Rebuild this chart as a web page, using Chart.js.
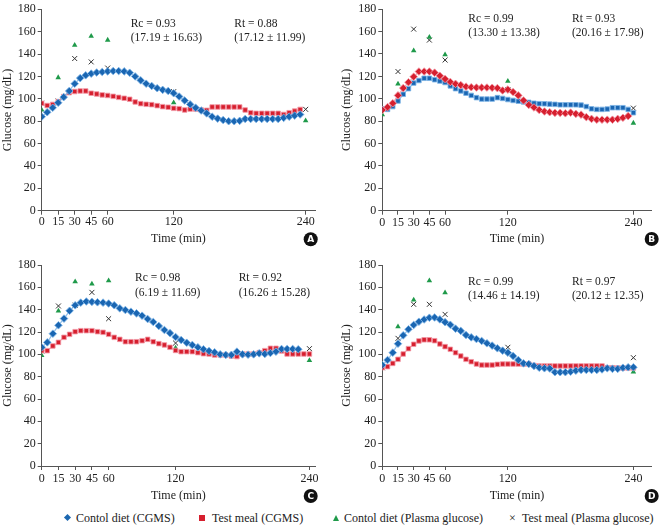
<!DOCTYPE html>
<html>
<head>
<meta charset="utf-8">
<script src="https://cdn.jsdelivr.net/npm/chart.js@4.4.1/dist/chart.umd.min.js"></script>
<style>
  body { margin: 0; background: #fff; }
  #wrap { position: relative; width: 660px; height: 527px; overflow: hidden; }
  canvas { position: absolute; }
  .leg { position: absolute; top: 510px; font: 12px "Liberation Serif", serif; color: #222; white-space: nowrap; line-height: 16px; }
  .mk { position: absolute; }
</style>
</head>
<body>
<div id="wrap">
  <canvas id="chA" width="330" height="250" style="left:0;top:0"></canvas>
  <canvas id="chB" width="330" height="250" style="left:330px;top:0"></canvas>
  <canvas id="chC" width="330" height="256" style="left:0;top:250px"></canvas>
  <canvas id="chD" width="330" height="256" style="left:330px;top:250px"></canvas>

  <div class="leg" style="left:64px"><span class="mk" style="left:1px;top:5px;width:5px;height:5px;background:#1c67b0;transform:rotate(45deg)"></span><span style="margin-left:12px">Contol diet (CGMS)</span></div>
  <div class="leg" style="left:199px"><span class="mk" style="left:0;top:5px;width:6px;height:6px;background:#d61f2e"></span><span style="margin-left:13px">Test meal (CGMS)</span></div>
  <div class="leg" style="left:333px"><span class="mk" style="left:0;top:5px;width:0;height:0;border-left:3.5px solid transparent;border-right:3.5px solid transparent;border-bottom:6px solid #1f9a4a"></span><span style="margin-left:11px">Contol diet (Plasma glucose)</span></div>
  <div class="leg" style="left:509px"><span class="mk" style="left:0;top:0">×</span><span style="margin-left:13px">Test meal (Plasma glucose)</span></div>
</div>

<script>
Chart.defaults.font.family = '"Liberation Serif", "Times New Roman", serif';
Chart.defaults.font.size = 12;
Chart.defaults.color = '#222';

// time axis
const xTicks = [0, 15, 30, 45, 60, 120, 240];
const cgmsTimes = [0, 5, 10, 15, 20, 25, 30, 35, 40, 45, 50, 55, 60, 65, 70, 75, 80, 85, 90, 95,
    100, 105, 110, 115, 120, 125, 130, 135, 140, 145, 150, 155, 160, 165, 170, 175, 180, 185, 190, 195,
    200, 205, 210, 215, 220, 225, 230, 235, 240];
const plasmaTimes = [0, 15, 30, 45, 60, 120, 240];

// panel A
const aControlCgms = [84, 88, 92, 96.5, 101.5, 107, 113.5, 118.5, 121, 122.5, 123.5, 124, 124.5, 124.8, 124.8, 124.5,
    123.3, 120, 116.5, 113.5, 111.5, 109.5, 108, 107, 105, 102, 98.5, 95, 92, 89.5, 87, 84, 82.3, 81, 80, 80, 80.3,
    82, 82, 82, 82, 82, 82, 82, 83, 84, 85, 86];
const aTestCgms = [96, 94, 95, 97.5, 102, 105.5, 106.5, 107, 107, 105, 104.3, 103.5, 103, 102.2, 101.3, 100.5, 99.6,
    97.2, 95.7, 95.1, 94.8, 93.9, 93, 92.5, 91.5, 91.2, 90, 90.8, 90.8, 90, 89.7, 92.7, 92.7, 92.7, 92.7, 92.7, 92.7,
    90, 87.6, 87, 87, 87, 87, 87, 86, 87.6, 89, 90.5];
const aControlPlasma = [90, 119, 148, 156, 152.5, 96.5, 80.5];
const aTestPlasma = [96, 98, 136, 133, 127.5, 106.4, 90.6];

// panel B
const bControlCgms = [91, 90.5, 93, 98, 104, 109, 114, 116.3, 118.3, 118.3, 117, 115.8, 114.5, 111.5, 109, 107, 105,
    103, 101, 99.7, 99.7, 99.7, 101, 100.3, 99.3, 98.5, 97.8, 97.2, 96.8, 96, 95.6, 95.5, 95.2, 95, 94.6, 94.6, 94.6,
    94.6, 94.3, 93, 91, 90.5, 90.5, 90.8, 92, 92, 92, 90.5, 87.5];
const bTestCgms = [90, 92.5, 96, 103, 109.5, 114.7, 119.7, 124.3, 124.3, 124.3, 123.3, 120.5, 117.7, 115, 113.3, 112.2,
    110.8, 110.3, 110, 110, 110, 109.8, 109.5, 107.4, 108.2, 106, 103, 98.5, 94.5, 92.2, 90, 88.6, 88, 87.4, 87.4, 87,
    87.6, 86.5, 85.8, 83.6, 82, 81.3, 81.3, 81.3, 81.3, 82, 83, 84.5];
const bControlPlasma = [85.7, 113.3, 143, 155, 139.4, 115.7, 78.3];
const bTestPlasma = [91, 124.3, 162.2, 152.4, 134.6, 108, 91.6];

// panel C
const cControlCgms = [106.3, 110.7, 118.5, 126, 132, 139, 143.9, 146.3, 147.3, 147, 146.6, 146.3, 145.5, 144, 141.2,
    139.7, 138.2, 136.7, 134.6, 131.6, 129, 125.4, 121.8, 119, 115.5, 112.8, 110.4, 108.4, 106.3, 104.5, 103, 101.8,
    100, 99.5, 99.5, 102.4, 100, 99.7, 100, 100.9, 100.3, 101.2, 102.4, 104.8, 104.8, 104.8, 104.5];
const cTestCgms = [103.3, 103.3, 107.5, 110.7, 115.2, 117.9, 120.3, 121.2, 121.2, 121.2, 120.3, 119.7, 117.9, 115.2,
    113.4, 111.3, 111.3, 111.3, 112.2, 113.4, 111.3, 109.6, 108.4, 106.3, 103.5, 102.4, 102.4, 102.4, 101.5, 100.6,
    100.3, 99.4, 99.4, 99.4, 98.5, 98, 100.3, 100.3, 100.3, 101.5, 103.3, 105.4, 105.4, 103, 100.3, 100.3, 100.3,
    100.3, 100.3];
const cControlPlasma = [99.1, 138.8, 165, 163, 166, 105.7, 94.6];
const cTestPlasma = [103, 143.3, 144, 155.5, 131.9, 110.1, 105.1];

// panel D
const dControlCgms = [90.4, 94.9, 101.5, 109.5, 117, 122.4, 126.3, 129.2, 131.2, 132.8, 133, 131.3, 128.8, 126.5, 123,
    121, 117.3, 115.2, 113.7, 112, 109.9, 107.8, 105.4, 103.3, 101.5, 98.5, 94.9, 91.9, 91.3, 89.6, 88, 87.5, 87.3,
    84, 84, 84, 84.5, 85.4, 86, 86, 86, 86, 86.5, 87.5, 87, 87, 88, 88.4, 88.4];
const dTestCgms = [88.1, 89, 91.9, 95.5, 100.3, 105.1, 109, 112, 113, 113, 112.2, 109.3, 106.9, 104.5, 101.5, 98.5,
    95.5, 93.4, 91.3, 90.4, 90.4, 90.4, 91, 91.3, 91.3, 91.3, 91.3, 91.3, 91.3, 90.1, 89.6, 89.6, 89.6, 89.6, 89.6,
    89.6, 89.6, 89.6, 89.6, 89.6, 89.6, 89.6, 89.6, 88, 88, 87.8, 87.8, 87.8, 87.8];
const dControlPlasma = [91, 124.8, 148.7, 166, 155.2, 101.5, 84.2];
const dTestPlasma = [88, 114.3, 144.8, 144.8, 135.8, 106.3, 97];

const blue = '#1a66b2';
const red = '#d61f2e';
const green = '#1f9a4a';
const blueHalo = 'rgba(125,180,230,0.85)';
const redHalo = 'rgba(242,150,165,0.85)';

function pts(times, values) {
    return values.map((v, i) => ({ x: times[i], y: v }));
}

function cgmsSet(values, color, halo, shape, r) {
    return {
        data: pts(cgmsTimes, values),
        borderColor: halo,
        borderWidth: 1.2,
        backgroundColor: color,
        pointStyle: shape,
        pointRadius: r,
        pointBorderColor: halo,
        pointBorderWidth: 1,
        pointBackgroundColor: color,
        order: 1
    };
}

function plasmaSets(ctrl, test) {
    return [{
        data: pts(plasmaTimes, ctrl),
        showLine: false,
        pointStyle: 'triangle',
        pointRadius: 3.2,
        pointBorderWidth: 0,
        pointBackgroundColor: green,
        order: 2
    }, {
        data: pts(plasmaTimes, test),
        showLine: false,
        pointStyle: 'crossRot',
        pointRadius: 3.5,
        pointBorderWidth: 1,
        pointBorderColor: '#333',
        order: 2
    }];
}

const notePlugin = {
    id: 'notes',
    afterDraw(chart, args, o) {
        const c = chart.ctx;
        c.save();
        c.fillStyle = '#222';
        c.font = '11.5px "Liberation Serif", serif';
        c.textBaseline = 'middle';
        c.fillText(o.rc, o.rcX, o.y1);
        c.fillText(o.rcSd, o.rcX, o.y2);
        c.fillText(o.rt, o.rtX, o.y1);
        c.fillText(o.rtSd, o.rtX, o.y2);
        c.fillStyle = '#111';
        c.beginPath();
        c.arc(o.bx, o.by, 7, 0, Math.PI * 2);
        c.fill();
        c.fillStyle = '#fff';
        c.font = 'bold 9px "DejaVu Sans", sans-serif';
        c.textAlign = 'center';
        c.fillText(o.letter, o.bx, o.by + 0.5);
        c.restore();
    }
};

function makePanel(id, p, datasets, notes) {
    const canvas = document.getElementById(id);
    const W = canvas.width, H = canvas.height;
    return new Chart(canvas, {
        type: 'line',
        data: { datasets: datasets },
        plugins: [notePlugin],
        options: {
            responsive: false,
            animation: false,
            devicePixelRatio: 1,
            layout: { padding: { top: p.top, right: W - p.right, bottom: 0, left: 0 } },
            plugins: { legend: { display: false }, tooltip: { enabled: false }, notes: notes },
            scales: {
                x: {
                    type: 'linear',
                    min: 0,
                    max: p.xMax,
                    afterBuildTicks: axis => { axis.ticks = xTicks.map(v => ({ value: v })); },
                    afterFit: s => { s.height = H - p.bottom; },
                    ticks: { autoSkip: false, maxRotation: 0, padding: p.tickPad, font: { size: 12 } },
                    grid: { drawOnChartArea: false, tickLength: 4, color: '#555' },
                    border: { color: '#555' },
                    title: { display: true, text: 'Time (min)', font: { size: 12 }, padding: { top: 0, bottom: p.xTitlePad } }
                },
                y: {
                    min: 0,
                    max: 180,
                    afterFit: s => { s.width = p.left; },
                    ticks: { stepSize: 20, padding: 2, font: { size: 12 } },
                    grid: { drawOnChartArea: false, tickLength: 4, color: '#555' },
                    border: { color: '#555' },
                    title: { display: true, text: 'Glucose (mg/dL)', font: { size: 12 }, padding: { top: p.yTitlePad, bottom: 0 } }
                }
            }
        }
    });
}

makePanel('chA', { left: 41.7, top: 9.3, right: 315, bottom: 210.7, xMax: 248.5, tickPad: 0, xTitlePad: 3.8, yTitlePad: 0.8 },
    [cgmsSet(aControlCgms, blue, blueHalo, 'rectRot', 3.8),
     cgmsSet(aTestCgms, red, redHalo, 'rect', 3.2)].concat(plasmaSets(aControlPlasma, aTestPlasma)),
    { rc: 'Rc = 0.93', rcSd: '(17.19 ± 16.63)', rt: 'Rt = 0.88', rtSd: '(17.12 ± 11.99)',
      rcX: 130.7, rtX: 234.3, y1: 24, y2: 38, letter: 'A', bx: 310.7, by: 239.3 });

makePanel('chB', { left: 52.3, top: 8.3, right: 321.7, bottom: 210.7, xMax: 257.5, tickPad: 1, xTitlePad: 3.8, yTitlePad: 9.5 },
    [cgmsSet(bTestCgms, red, redHalo, 'rectRot', 3.8),
     cgmsSet(bControlCgms, blue, blueHalo, 'rect', 3.2)].concat(plasmaSets(bControlPlasma, bTestPlasma)),
    { rc: 'Rc = 0.99', rcSd: '(13.30 ± 13.38)', rt: 'Rt = 0.93', rtSd: '(20.16 ± 17.98)',
      rcX: 138.3, rtX: 242, y1: 19, y2: 33, letter: 'B', bx: 321.7, by: 239 });

makePanel('chC', { left: 41.7, top: 15, right: 315, bottom: 216, xMax: 245, tickPad: 2, xTitlePad: 2.8, yTitlePad: 0.8 },
    [cgmsSet(cControlCgms, blue, blueHalo, 'rectRot', 3.8),
     cgmsSet(cTestCgms, red, redHalo, 'rect', 3.2)].concat(plasmaSets(cControlPlasma, cTestPlasma)),
    { rc: 'Rc = 0.98', rcSd: '(6.19 ± 11.69)', rt: 'Rt = 0.92', rtSd: '(16.26 ± 15.28)',
      rcX: 135, rtX: 238.7, y1: 28, y2: 43, letter: 'C', bx: 310.7, by: 246 });

makePanel('chD', { left: 52.3, top: 15, right: 321.7, bottom: 216, xMax: 257.5, tickPad: 2, xTitlePad: 2.8, yTitlePad: 9.5 },
    [cgmsSet(dControlCgms, blue, blueHalo, 'rectRot', 3.8),
     cgmsSet(dTestCgms, red, redHalo, 'rect', 3.2)].concat(plasmaSets(dControlPlasma, dTestPlasma)),
    { rc: 'Rc = 0.99', rcSd: '(14.46 ± 14.19)', rt: 'Rt = 0.97', rtSd: '(20.12 ± 12.35)',
      rcX: 138, rtX: 242, y1: 32, y2: 46, letter: 'D', bx: 321.7, by: 246 });
</script>
</body>
</html>
